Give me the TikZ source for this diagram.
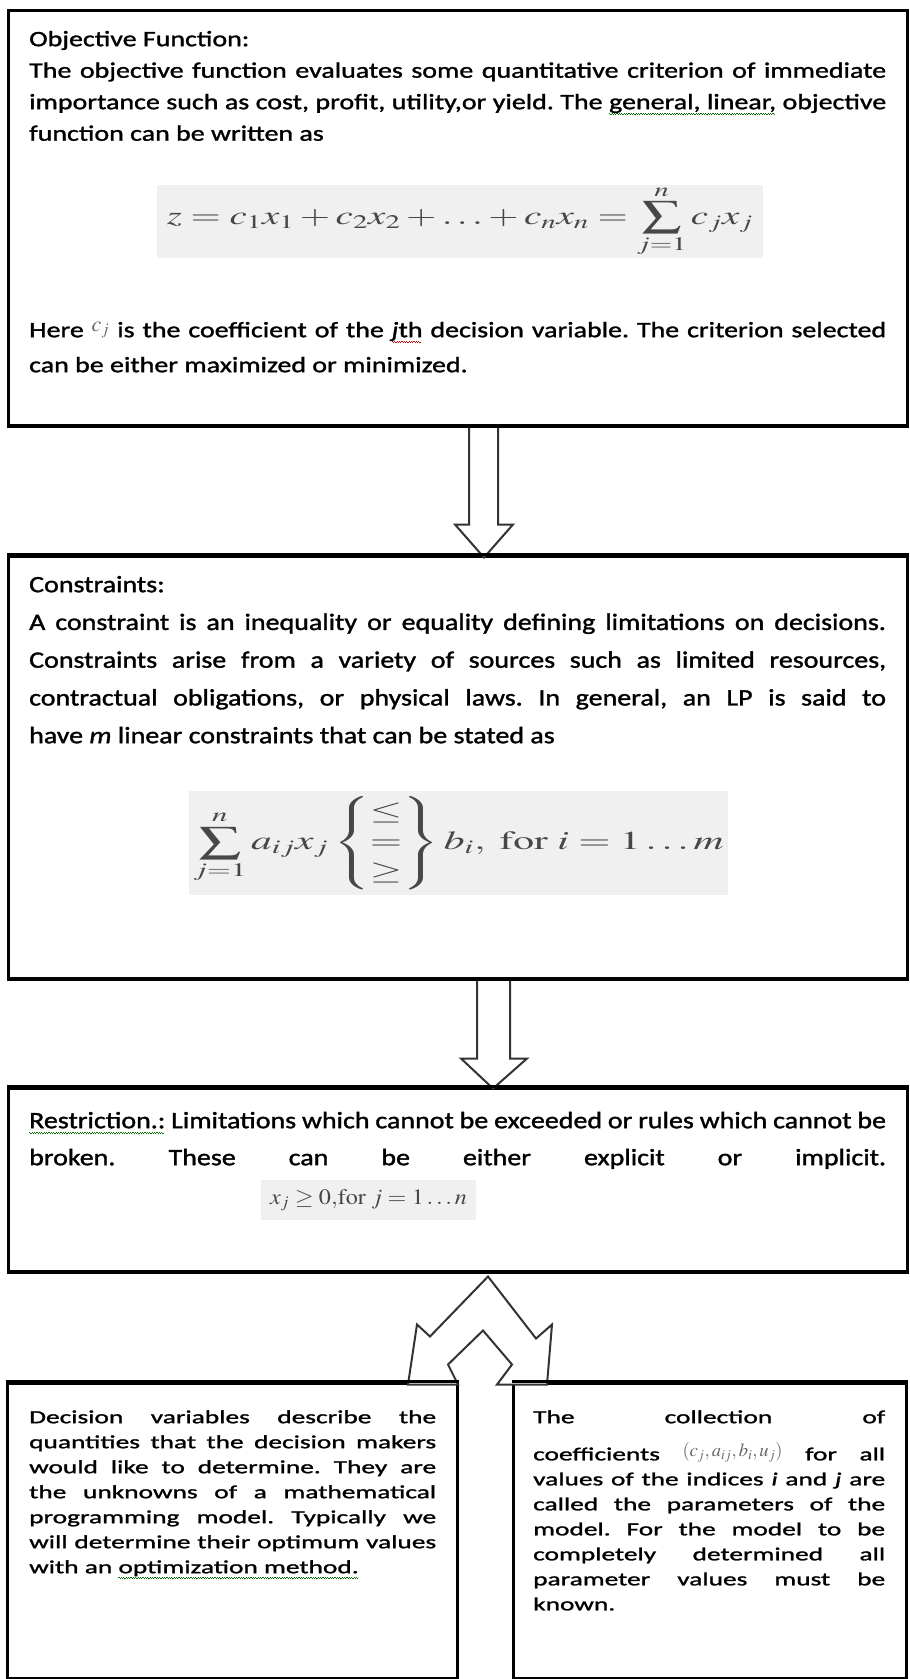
\documentclass[tikz,border=0pt]{standalone}
\usepackage{amsmath}
\usepackage{mathptmx}
\usepackage[no-math]{fontspec}
\setmainfont{Carlito}
\newfontfamily\objfont{Carlito}[FakeStretch=1.27, FakeBold=1.4]
\newfontfamily\consfont{Carlito}[FakeStretch=1.19, FakeBold=1.4]
\newfontfamily\varfont{Carlito}[FakeStretch=1.48, FakeBold=1.4]
\usepackage{graphicx}

\tolerance=10000
\hyphenpenalty=10000
\exhyphenpenalty=10000
\frenchspacing

% squiggly underline as in a word processor
\newcommand\wavyline[2]{\setbox0=\hbox{#2}\rlap{\textcolor{#1}{\leaders\hbox{\rule[-5pt]{1.2pt}{1.2pt}\rule[-6.2pt]{1.2pt}{1.2pt}}\hskip\wd0}}#2}
\newcommand\gwave[1]{\wavyline{green!45!black}{#1}}
\newcommand\rwave[1]{\wavyline{red!80!black}{#1}}
\newcommand\firstrule[1]{\rule{0pt}{#1}}

\tikzset{
  infobox/.style={draw, line width=3pt, inner sep=0pt},
  boxtext/.style={anchor=north west, inner sep=0pt, align=justify},
  eqback/.style={fill=black!6, inner sep=0pt, text=black!72},
  blockarrow/.style={draw=black!80, line width=2pt, fill=white, line join=miter}
}

\begin{document}
\begin{tikzpicture}[x=1pt, y=-1pt]
    \useasboundingbox (0,0) rectangle (910,1679);
    \fill[white] (0,0) rectangle (910,1679);

    % the five boxes
    \node[infobox, minimum width=899pt, minimum height=415pt] (objbox) at (457.5,217.5) {};
    \node[infobox, minimum width=899pt, minimum height=422pt] (consbox) at (457.5,767) {};
    \node[infobox, minimum width=899pt, minimum height=183pt] (restbox) at (457.5,1179.5) {};
    \node[infobox, minimum width=450pt, minimum height=295pt] (varbox) at (232,1530.5) {};
    \node[infobox, minimum width=393pt, minimum height=295pt] (parbox) at (709.5,1530.5) {};

    % block arrows between the boxes
    \begin{scope}[shift={(objbox.south)}]
        \draw[blockarrow] (11.5,0) -- (11.5,98) -- (-2.5,98) -- (26.5,131) -- (55.5,98) -- (40.5,98) -- (40.5,0) -- cycle;
    \end{scope}
    \begin{scope}[shift={(consbox.south)}]
        \draw[blockarrow] (19.5,0) -- (19.5,79) -- (3.5,79) -- (35.5,109) -- (69.5,79) -- (52.5,79) -- (52.5,0) -- cycle;
    \end{scope}
    \begin{scope}[shift={(restbox.south)}]
        \draw[blockarrow] (30.5,4) -- (78.5,66) -- (94.5,52) -- (89.5,112) -- (39.5,112) -- (54.5,92)
            -- (25.5,58) -- (-9.5,92) -- (0.5,112) -- (-49.5,112) -- (-40.5,52) -- (-27.5,64) -- cycle;
    \end{scope}
    \draw[line width=3pt] (varbox.north west) -- (varbox.north east);
    \draw[line width=3pt] (parbox.north west) -- (parbox.north east);
    \draw[line width=3pt] (objbox.south west) -- (objbox.south east);
    \draw[line width=3pt] (consbox.south west) -- (consbox.south east);
    \draw[line width=3pt] (consbox.north west) -- (consbox.north east);
    \draw[line width=3pt] (restbox.north west) -- (restbox.north east);
    \draw[line width=3pt] (restbox.south west) -- (restbox.south east);

    % objective function
    \node[boxtext, text width=857pt, font=\objfont\fontsize{22}{31.5}\selectfont] (objtext) at (29,28)
        {\firstrule{18pt}Objective Function:\\
        The objective function evaluates some quantitative criterion of immediate\linebreak
        importance such as cost, profit, utility,or yield. The \gwave{general, linear,} objective\linebreak
        function can be written as};
    \node[eqback, minimum width=606pt, minimum height=69pt] (objeq) at (460,221.5)
        {\scalebox{1.5}[1]{\fontsize{26}{30}\selectfont$\displaystyle z = c_1x_1 + c_2x_2 + \ldots + c_nx_n = \sum_{j=1}^{n} c_jx_j$}};
    \node[boxtext, text width=857pt, font=\objfont\fontsize{22}{35}\selectfont] (objnote) at (29,319)
        {\firstrule{18pt}Here \raisebox{6pt}{\textcolor{black!60}{$c_j$}} is the coefficient of the \rwave{\textit{j}th} decision variable. The criterion selected\linebreak
        can be either maximized or minimized.};

    % constraints
    \node[boxtext, text width=857pt, font=\consfont\fontsize{23.5}{37.75}\selectfont] (constext) at (29,574)
        {\firstrule{18pt}Constraints:\\
        A constraint is an inequality or equality defining limitations on decisions.\linebreak
        Constraints arise from a variety of sources such as limited resources,\linebreak
        contractual obligations, or physical laws. In general, an LP is said to\linebreak
        have \textit{m} linear constraints that can be stated as};
    \node[eqback, minimum width=539pt, minimum height=104pt] (conseq) at (458.5,843)
        {\scalebox{1.6}[1]{\fontsize{26}{30}\selectfont$\displaystyle \sum_{j=1}^{n} a_{ij}x_j \begin{Bmatrix}\le\\ =\\ \ge\end{Bmatrix} b_i,\ \mathrm{for}\ i = 1\ldots m$}};

    % restriction
    \node[boxtext, text width=857pt, font=\consfont\fontsize{23.5}{37}\selectfont] (resttext) at (29,1110)
        {\firstrule{18pt}\gwave{Restriction.:} Limitations which cannot be exceeded or rules which cannot be\linebreak
        broken. These can be either explicit or implicit.\linebreak\mbox{}};
    \node[eqback, minimum width=215pt, minimum height=40pt] (resteq) at (368.5,1200)
        {\scalebox{1.1}[1]{\fontsize{22}{26}\selectfont$x_j \ge 0{,}\mathrm{for}\; j = 1\ldots n$}};

    % decision variables and parameters
    \node[boxtext, text width=407pt, font=\varfont\fontsize{18.5}{25}\selectfont] (vartext) at (29,1409)
        {\firstrule{14pt}Decision variables describe the\linebreak
        quantities that the decision makers\linebreak
        would like to determine. They are\linebreak
        the unknowns of a mathematical\linebreak
        programming model. Typically we\linebreak
        will determine their optimum values\linebreak
        with an \gwave{optimization method.}};
    \node[boxtext, text width=352pt, font=\varfont\fontsize{18.5}{25}\selectfont] (partext) at (533,1409)
        {\firstrule{14pt}The collection of\linebreak
        \rule{0pt}{36pt}coefficients \raisebox{4pt}{\textcolor{black!60}{$(c_j, a_{ij}, b_i, u_j)$}} for all\linebreak
        values of the indices \textit{i} and \textit{j} are\linebreak
        called the parameters of the\linebreak
        model. For the model to be\linebreak
        completely determined all\linebreak
        parameter values must be\linebreak
        known.};
\end{tikzpicture}
\end{document}
